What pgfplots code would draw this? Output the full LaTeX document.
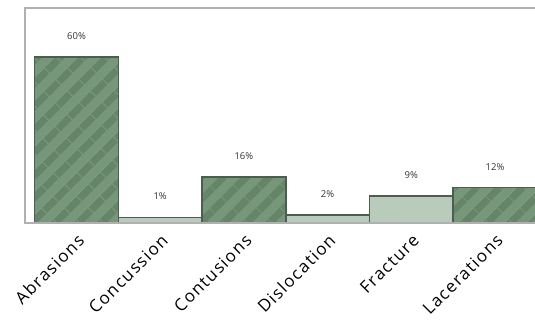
\documentclass[border=0pt]{standalone}
\usepackage{fontspec}
\setmainfont{Open Sans}
\newfontfamily\catfont[LetterSpace=8]{Open Sans}
\usepackage{pgfplots}
\pgfplotsset{compat=1.18}
\usetikzlibrary{patterns.meta}

\definecolor{hatchbase}{HTML}{769779}
\definecolor{hatchline}{HTML}{668568}
\definecolor{plainbar}{HTML}{B9CBBB}
\definecolor{baredge}{HTML}{4D5D4F}
\definecolor{framegray}{HTML}{B0B0B0}
\definecolor{valtext}{HTML}{333333}

\tikzset{
  hatched/.style={preaction={fill=hatchbase},
    pattern={Lines[angle=45,distance=17pt,line width=8pt]},
    pattern color=hatchline, draw=baredge, line width=1.6pt, line join=miter},
  plain/.style={fill=plainbar, draw=baredge, line width=1.6pt, line join=miter},
}

\begin{document}
\begin{tikzpicture}[x=1pt,y=1pt]
\useasboundingbox (0,0) rectangle (535,322);
\begin{axis}[
  at={(25pt,99pt)}, anchor=south west,
  scale only axis, width=521.5pt, height=215pt,
  xmin=-0.615, xmax=5.615, ymin=-1, ymax=78,
  axis line style={framegray, line width=1.6pt},
  ytick=\empty,
  xtick={0,...,5},
  xticklabels={Abrasions,Concussion,Contusions,Dislocation,Fracture,Lacerations},
  major tick length=0pt,
  xticklabel style={font=\catfont\fontsize{17}{17}\selectfont, text=black,
    xshift=7pt, yshift=-12pt, rotate=45, anchor=east},
  /pgf/number format/assume math mode=true,
  clip=false,
  axis on top,
]
% injury share per category, bars rest on the axis floor
\addplot[hatched] coordinates {(-0.5,-1) (-0.5,60) (0.5,60) (0.5,-1)};
\addplot[plain]   coordinates {(0.5,-1) (0.5,1) (1.5,1) (1.5,-1)};
\addplot[hatched] coordinates {(1.5,-1) (1.5,16) (2.5,16) (2.5,-1)};
\addplot[plain]   coordinates {(2.5,-1) (2.5,2) (3.5,2) (3.5,-1)};
\addplot[plain]   coordinates {(3.5,-1) (3.5,9) (4.5,9) (4.5,-1)};
\addplot[hatched] coordinates {(4.5,-1) (4.5,12) (5.5,12) (5.5,-1)};
% value labels
\addplot[draw=none, point meta=y,
  nodes near coords={\pgfmathprintnumber[assume math mode=true]{\pgfplotspointmeta}\%},
  every node near coord/.style={anchor=center, yshift=21pt,
    font=\fontsize{9.5}{10}\selectfont, text=valtext}]
  coordinates {(0,60) (1,1) (2,16) (3,2) (4,9) (5,12)};
\end{axis}
\end{tikzpicture}
\end{document}
